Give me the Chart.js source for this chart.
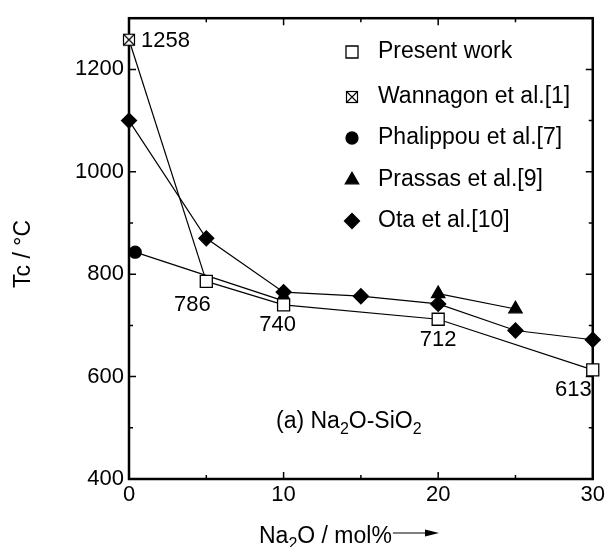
<!DOCTYPE html>
<html>
<head>
<meta charset="utf-8">
<script src="https://cdn.jsdelivr.net/npm/chart.js@4.4.1/dist/chart.umd.min.js"></script>
<style>
html,body{margin:0;padding:0;background:#fff;}
#wrap{width:608px;height:547px;}
</style>
</head>
<body>
<div id="wrap"><canvas id="chart" width="608" height="547"></canvas></div>
<script>
// --- Daten ---
const presentX = [5, 10, 20, 30];
const presentY = [786, 740, 712, 613];
const wannagonX = [0];
const wannagonY = [1258];
const phalippouX = [0.4, 10];
const phalippouY = [843, 748];
const prassasX = [20, 25];
const prassasY = [762, 732];
const otaX = [0, 5, 10, 15, 20, 25, 30];
const otaY = [1100, 870, 765, 757, 742, 690, 672];

const xTicks = [0, 10, 20, 30];
const xMinor = [5, 15, 25];
const yTicks = [400, 600, 800, 1000, 1200];
const yMinor = [500, 700, 900, 1100];

const seriesNames = ["Present work", "Wannagon et al.[1]", "Phalippou et al.[7]", "Prassas et al.[9]", "Ota et al.[10]"];

const FONT = '"Liberation Sans", Arial, Helvetica, sans-serif';

// --- Hilfsfunktionen ---
function pts(xs, ys){ return xs.map((x, i) => ({x: x, y: ys[i]})); }

// Quadrat mit Kreuz als Marker
function crossBox(){
    const cv = document.createElement("canvas");
    cv.width = 14; cv.height = 14;
    const g = cv.getContext("2d");
    g.fillStyle = "#fff"; g.fillRect(1, 1, 12, 12);
    g.strokeStyle = "#000"; g.lineWidth = 1.2;
    g.strokeRect(1.5, 1.5, 11, 11);
    g.beginPath();
    g.moveTo(1.5, 1.5); g.lineTo(12.5, 12.5);
    g.moveTo(12.5, 1.5); g.lineTo(1.5, 12.5);
    g.stroke();
    return cv;
}
const crossImg = crossBox();

// Text mit tiefgestellten Teilen zeichnen
function drawParts(ctx, parts, x, y, size){
    let cx = x;
    parts.forEach(p => {
        ctx.font = `${p.sub ? Math.round(size * 0.7) : size}px ${FONT}`;
        ctx.fillText(p.t, cx, p.sub ? y + size * 0.26 : y);
        cx += ctx.measureText(p.t).width;
    });
    return cx;
}

const base = {showLine: true, borderColor: "#000", borderWidth: 1.2, clip: false,
              pointBorderColor: "#000", pointBorderWidth: 1.3};

const datasets = [
    Object.assign({}, base, {label: seriesNames[0], data: pts(presentX, presentY),
        pointStyle: "rect", pointRadius: 8.5, pointBackgroundColor: "#fff"}),
    // Verbindung von Wannagon zum ersten eigenen Messpunkt
    Object.assign({}, base, {label: seriesNames[1],
        data: pts(wannagonX, wannagonY).concat([{x: presentX[0], y: presentY[0]}]),
        pointStyle: crossImg, pointRadius: [7, 0]}),
    Object.assign({}, base, {label: seriesNames[2], data: pts(phalippouX, phalippouY),
        pointStyle: "circle", pointRadius: 6, pointBackgroundColor: "#000"}),
    Object.assign({}, base, {label: seriesNames[3], data: pts(prassasX, prassasY),
        pointStyle: "triangle", pointRadius: 7.7, pointBackgroundColor: "#000"}),
    Object.assign({}, base, {label: seriesNames[4], data: pts(otaX, otaY),
        pointStyle: "rectRot", pointRadius: 7.5, pointBackgroundColor: "#000"})
];

// --- Rahmen + Ticks nach innen ---
const framePlugin = {
    id: "frame",
    beforeDatasetsDraw(c){
        const {ctx, chartArea: a, scales: {x, y}} = c;
        ctx.save();
        ctx.strokeStyle = "#000";
        ctx.lineWidth = 1.5;
        ctx.beginPath();
        const xt = (v, len) => {
            const px = x.getPixelForValue(v);
            ctx.moveTo(px, a.bottom); ctx.lineTo(px, a.bottom - len);
            ctx.moveTo(px, a.top); ctx.lineTo(px, a.top + len);
        };
        const yt = (v, len) => {
            const py = y.getPixelForValue(v);
            ctx.moveTo(a.left, py); ctx.lineTo(a.left + len, py);
            ctx.moveTo(a.right, py); ctx.lineTo(a.right - len, py);
        };
        xTicks.forEach(v => xt(v, 7));
        xMinor.forEach(v => xt(v, 4));
        yTicks.forEach(v => yt(v, 7));
        yMinor.forEach(v => yt(v, 4));
        ctx.stroke();
        ctx.lineWidth = 2.5;
        ctx.strokeRect(a.left, a.top, a.right - a.left, a.bottom - a.top);
        ctx.restore();
    }
};

// --- Werte an den Punkten ---
const labelOffsets = [[-14, 24, "center"], [-6, 20, "center"], [0, 21, "center"], [-1, 20, "right"]];
const valuePlugin = {
    id: "values",
    afterDatasetsDraw(c){
        const {ctx, scales: {x, y}} = c;
        ctx.save();
        ctx.fillStyle = "#000";
        ctx.font = `22px ${FONT}`;
        ctx.textBaseline = "middle";
        presentY.forEach((v, i) => {
            const o = labelOffsets[i];
            ctx.textAlign = o[2];
            ctx.fillText(String(v), x.getPixelForValue(presentX[i]) + o[0], y.getPixelForValue(v) + o[1]);
        });
        ctx.textAlign = "left";
        ctx.fillText(String(wannagonY[0]), x.getPixelForValue(wannagonX[0]) + 12, y.getPixelForValue(wannagonY[0]) + 1);
        ctx.restore();
    }
};

// --- Legende, Achsentitel, Beschriftung ---
const legendRows = [52, 97, 138, 180, 221];
const textPlugin = {
    id: "texts",
    afterDraw(c){
        const ctx = c.ctx;
        ctx.save();
        ctx.fillStyle = "#000";
        ctx.strokeStyle = "#000";

        // Legende
        c.data.datasets.forEach((ds, i) => {
            const r = Array.isArray(ds.pointRadius) ? ds.pointRadius[0] : ds.pointRadius;
            ctx.fillStyle = ds.pointBackgroundColor || "#000";
            ctx.strokeStyle = "#000";
            ctx.lineWidth = ds.pointBorderWidth;
            Chart.helpers.drawPoint(ctx, {pointStyle: ds.pointStyle, radius: r, rotation: 0, borderWidth: ds.pointBorderWidth}, 352, legendRows[i]);
            ctx.fillStyle = "#000";
            ctx.font = `23px ${FONT}`;
            ctx.textAlign = "left";
            ctx.textBaseline = "middle";
            ctx.fillText(ds.label, 378, legendRows[i]);
        });

        ctx.textBaseline = "alphabetic";
        ctx.textAlign = "left";

        // (a) Na2O-SiO2
        drawParts(ctx, [{t: "(a) Na"}, {t: "2", sub: true}, {t: "O-SiO"}, {t: "2", sub: true}], 276, 428, 23);

        // x-Titel mit Pfeil
        const end = drawParts(ctx, [{t: "Na"}, {t: "2", sub: true}, {t: "O / mol%"}], 259, 543, 23);
        ctx.lineWidth = 1.2;
        ctx.beginPath();
        ctx.moveTo(end + 1, 533); ctx.lineTo(428, 533);
        ctx.stroke();
        ctx.beginPath();
        ctx.moveTo(439, 533); ctx.lineTo(425, 529.5); ctx.lineTo(425, 536.5);
        ctx.closePath(); ctx.fill();

        // y-Titel
        ctx.translate(30, 254);
        ctx.rotate(-Math.PI / 2);
        ctx.textAlign = "center";
        ctx.font = `23px ${FONT}`;
        ctx.fillText("Tc / \u00B0C", 0, 0);
        ctx.restore();
    }
};

new Chart(document.getElementById("chart"), {
    type: "scatter",
    data: {datasets: datasets},
    options: {
        responsive: false,
        animation: false,
        devicePixelRatio: 1,
        layout: {padding: {top: 12, right: 13, left: 0, bottom: 0}},
        plugins: {legend: {display: false}, tooltip: {enabled: false}},
        scales: {
            x: {
                type: "linear", min: 0, max: 30,
                afterBuildTicks: s => { s.ticks = xTicks.map(v => ({value: v})); },
                afterFit: s => { s.height = 68; },
                grid: {display: false, drawTicks: false},
                border: {display: false},
                ticks: {color: "#000", padding: 3, maxRotation: 0, font: {family: FONT, size: 22},
                        callback: v => String(v)}
            },
            y: {
                type: "linear", min: 400, max: 1300,
                afterBuildTicks: s => { s.ticks = yTicks.map(v => ({value: v})); },
                afterFit: s => { s.width = 129; },
                grid: {display: false, drawTicks: false},
                border: {display: false},
                ticks: {color: "#000", padding: 5, font: {family: FONT, size: 22},
                        callback: v => String(v)}
            }
        }
    },
    plugins: [framePlugin, valuePlugin, textPlugin]
});
</script>
</body>
</html>
